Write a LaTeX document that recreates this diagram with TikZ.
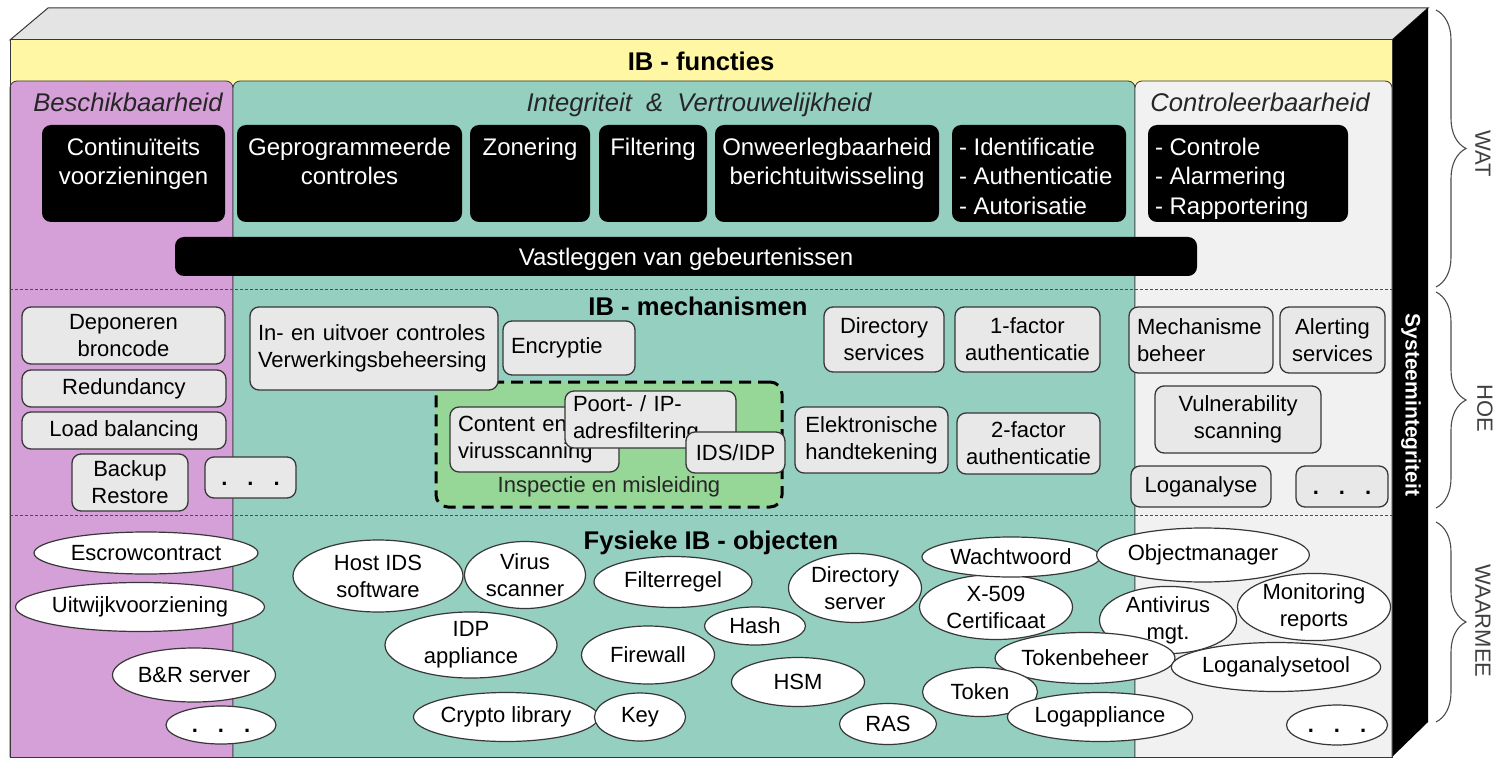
\documentclass[tikz,border=0pt]{standalone}
\usepackage{fontspec}
\setmainfont{Liberation Sans}
\usetikzlibrary{shapes.geometric,positioning,decorations.pathreplacing}

\definecolor{topgray}{RGB}{228,228,228}
\definecolor{bandyellow}{RGB}{255,247,163}
\definecolor{avpurple}{RGB}{213,160,215}
\definecolor{ivteal}{RGB}{148,207,192}
\definecolor{ctgray}{RGB}{241,241,241}
\definecolor{boxgray}{RGB}{232,232,232}
\definecolor{insgreen}{RGB}{150,214,150}
\definecolor{edgegray}{RGB}{55,55,55}

\tikzset{
  panel/.style={draw=edgegray, line width=0.8pt, rounded corners=7pt},
  funcbox/.style={fill=black, rounded corners=9pt, inner sep=0pt},
  functext/.style={text=white, align=center, inner sep=0pt, font=\fontsize{24}{29.5}\selectfont},
  mechbox/.style={draw=edgegray, line width=1.3pt, fill=boxgray, rounded corners=9pt,
    inner sep=0pt, align=center, font=\fontsize{22}{27}\selectfont},
  leftbox/.style={align=left, inner xsep=8pt},
  objell/.style={ellipse, draw=edgegray, line width=1.2pt, fill=white, inner sep=0pt,
    align=center, font=\fontsize{22}{27}\selectfont},
  sectitle/.style={anchor=base, font=\bfseries\fontsize{25.6}{30}\selectfont},
  areatitle/.style={anchor=base, text=black!85, font=\itshape\fontsize{25.6}{30}\selectfont},
  sidelabel/.style={rotate=-90, text=black!75, font=\fontsize{22}{26}\selectfont},
  layerbrace/.style={decorate, decoration={brace, amplitude=30pt}, draw=black!70, line width=1.1pt},
  layerline/.style={draw=black!70, line width=1pt, dash pattern=on 3pt off 2pt},
}
\newcommand{\dotrow}{\vphantom{A}\textbf{.\hspace{20pt}.\hspace{20pt}.}}

\begin{document}
\begin{tikzpicture}[x=1pt, y=-1pt]
\useasboundingbox (0,0) rectangle (1496,759);

% the block
\draw[draw=edgegray, line width=1pt, fill=topgray] (10,40) -- (48,8) -- (1428,8) -- (1392,40) -- cycle;
\draw[draw=edgegray, line width=1pt, fill=bandyellow] (10,40) rectangle (1392,757);
\fill[black] (1392,40) -- (1428,8) -- (1428,722) -- (1392,757) -- cycle;
\draw[panel, fill=avpurple] (10,757) -- (10,81) -- (233,81) -- (233,757);
\draw[panel, fill=ivteal] (233,757) -- (233,81) -- (1135,81) -- (1135,757);
\draw[panel, fill=ctgray] (1135,757) -- (1135,81) -- (1392,81) -- (1392,757);
\draw[draw=edgegray, line width=1pt] (10,40) rectangle (1392,757);
\draw[layerline] (10,290) -- (1392,290);
\draw[layerline] (10,515) -- (1392,515);

\node[sectitle] (tfunc) at (701,71) {IB - functies};
\node[areatitle] (tbesch) at (128,112) {Beschikbaarheid};
\node[areatitle] (tintvert) at (699,112) {Integriteit\ \ \&\ \ Vertrouwelijkheid};
\node[areatitle] (tcontr) at (1260,112) {Controleerbaarheid};
\node[rotate=-90, text=white, font=\bfseries\fontsize{21}{25}\selectfont] (tsys) at (1411,405) {Systeemintegriteit};

% IB - functies
\node[funcbox, minimum width=183pt, minimum height=97pt] (fcont) at (133.5,173.5) {};
\node[funcbox, minimum width=225pt, minimum height=97pt] (fgepr) at (349.5,173.5) {};
\node[funcbox, minimum width=120pt, minimum height=97pt] (fzon) at (530,173.5) {};
\node[funcbox, minimum width=108pt, minimum height=97pt] (ffilt) at (653,173.5) {};
\node[funcbox, minimum width=224pt, minimum height=97pt] (fonw) at (827,173.5) {};
\node[funcbox, minimum width=174pt, minimum height=97pt] (fiaa) at (1039,173.5) {};
\node[funcbox, minimum width=200pt, minimum height=97pt] (fcar) at (1248,173.5) {};
\node[functext, anchor=north, below=13pt of fcont.north] (tcont) {Continuïteits\\voorzieningen};
\node[functext, anchor=north, below=13pt of fgepr.north] (tgepr) {Geprogrammeerde\\controles};
\node[functext, anchor=north, below=13pt of fzon.north] (tzon) {Zonering};
\node[functext, anchor=north, below=13pt of ffilt.north] (tfilt) {Filtering};
\node[functext, anchor=north, below=13pt of fonw.north] (tonw) {Onweerlegbaarheid\\berichtuitwisseling};
\node[functext, align=left, below right=13pt and 7pt of fiaa.north west] (tiaa) {- Identificatie\\- Authenticatie\\- Autorisatie};
\node[functext, align=left, below right=13pt and 7pt of fcar.north west] (tcar) {- Controle\\- Alarmering\\- Rapportering};
\node[funcbox, functext, text depth=0pt, minimum width=1022pt, minimum height=39pt] (fvast) at (686,256.5) {Vastleggen van gebeurtenissen};

% IB - mechanismen
\node[sectitle] (tmech) at (698,315) {IB - mechanismen};
\node[mechbox, minimum width=203pt, minimum height=57pt] (depon) at (123.5,335.5) {Deponeren\\broncode};
\node[mechbox, minimum width=204pt, minimum height=37pt] (redund) at (124,388.5) {Redundancy};
\node[mechbox, minimum width=204pt, minimum height=37pt] (loadb) at (124,430.5) {Load balancing};
\node[mechbox, minimum width=116pt, minimum height=57pt] (backup) at (130,482.5) {Backup\\Restore};
\node[mechbox, minimum width=91pt, minimum height=41pt] (dotsmA) at (250.5,477.5) {\dotrow};
\node[draw=black, line width=3pt, dash pattern=on 12pt off 7pt, fill=insgreen, rounded corners=12pt,
  minimum width=346pt, minimum height=125pt, inner sep=0pt] (insp) at (609,444.5) {};
\node[font=\fontsize{22}{27}\selectfont, text=black!85] (tinsp) at (609,487) {Inspectie en misleiding};
\node[mechbox, leftbox, text width=232pt, minimum height=83pt] (inuit) at (374,348.5) {In- en uitvoer controles\\Verwerkingsbeheersing};
\node[mechbox, leftbox, text width=116pt, minimum height=54pt] (encr) at (569,348) {Encryptie};
\node[mechbox, leftbox, text width=153pt, minimum height=65pt] (content) at (534.5,439.5) {Content en\\virusscanning};
\node[mechbox, leftbox, text width=155pt, minimum height=57pt] (poort) at (650.5,419.5) {Poort- / IP-\\adresfiltering};
\node[mechbox, minimum width=99pt, minimum height=41pt] (idsidp) at (735.5,452.5) {IDS/IDP};
\node[mechbox, minimum width=120pt, minimum height=65pt] (dirsv) at (884,339.5) {Directory\\services};
\node[mechbox, minimum width=145pt, minimum height=65pt] (fac1) at (1027.5,339.5) {1-factor\\authenticatie};
\node[mechbox, minimum width=153pt, minimum height=66pt] (elek) at (871.5,440) {Elektronische\\handtekening};
\node[mechbox, minimum width=143pt, minimum height=61pt] (fac2) at (1028.5,443.5) {2-factor\\authenticatie};
\node[mechbox, leftbox, text width=128pt, minimum height=66pt] (mechb) at (1201,340) {Mechanisme\\beheer};
\node[mechbox, minimum width=105pt, minimum height=66pt] (alert) at (1332.5,340) {Alerting\\services};
\node[mechbox, minimum width=166pt, minimum height=67pt] (vuln) at (1238,419.5) {Vulnerability\\scanning};
\node[mechbox, minimum width=140pt, minimum height=41pt] (logan) at (1201,486.5) {Loganalyse};
\node[mechbox, minimum width=92pt, minimum height=41pt] (dotsmC) at (1342,486.5) {\dotrow};

% Fysieke IB - objecten
\node[sectitle] (tobj) at (711,549) {Fysieke IB - objecten};
\node[objell, minimum width=224pt, minimum height=42pt] (escrow) at (146,553) {Escrowcontract};
\node[objell, minimum width=236pt, minimum height=49pt] (uitwijk) at (140,607) {Uitwijkvoorziening};
\node[objell, minimum width=163pt, minimum height=54pt] (brsrv) at (194,675) {B\&R server};
\node[objell, minimum width=110pt, minimum height=38pt] (dotsoA) at (221,725) {\dotrow};
\node[objell, minimum width=170pt, minimum height=72pt] (hids) at (378,576) {Host IDS\\software};
\node[objell, minimum width=121pt, minimum height=67pt] (virsc) at (525,575) {Virus\\scanner};
\node[objell, minimum width=158pt, minimum height=51pt] (filtr) at (673,582) {Filterregel};
\node[objell, minimum width=172pt, minimum height=56pt] (idpapp) at (471,645) {IDP\\appliance};
\node[objell, minimum width=133pt, minimum height=58pt] (firew) at (648,655) {Firewall};
\node[objell, minimum width=101pt, minimum height=38pt] (hash) at (755,626) {Hash};
\node[objell, minimum width=133pt, minimum height=69pt] (dirsrv) at (855,588) {Directory\\server};
\node[objell, minimum width=133pt, minimum height=49pt] (hsm) at (798,682) {HSM};
\node[objell, minimum width=177pt, minimum height=49pt] (crypt) at (506,717) {Crypto library};
\node[objell, minimum width=91pt, minimum height=48pt] (key) at (640,717) {Key};
\node[objell, minimum width=97pt, minimum height=41pt] (ras) at (888,724) {RAS};
\node[objell, minimum width=153pt, minimum height=65pt] (xcert) at (996,607) {X-509\\Certificaat};
\node[objell, minimum width=178pt, minimum height=40pt] (wacht) at (1011,557) {Wachtwoord};
\node[objell, minimum width=137pt, minimum height=60pt] (antiv) at (1168,620) {Antivirus\\mgt.};
\node[objell, minimum width=176pt, minimum height=51pt] (tokbeh) at (1085,658) {Tokenbeheer};
\node[objell, minimum width=115pt, minimum height=49pt] (token) at (980,692) {Token};
\node[objell, minimum width=170pt, minimum height=49pt] (logapp) at (1100,717) {Logappliance};
\node[objell, minimum width=203pt, minimum height=54pt] (objman) at (1203,555) {Objectmanager};
\node[objell, minimum width=153pt, minimum height=65pt] (monit) at (1314,607) {Monitoring\\reports};
\node[objell, minimum width=192pt, minimum height=49pt] (logtool) at (1276,667) {Loganalysetool};
\node[objell, minimum width=101pt, minimum height=40pt] (dotsoC) at (1337,725) {\dotrow};

% WAT / HOE / WAARMEE
\coordinate (watTop) at (1436,10);
\coordinate (watBot) at (1436,287);
\coordinate (hoeTop) at (1436,292);
\coordinate (hoeBot) at (1436,508);
\coordinate (waarTop) at (1436,522);
\coordinate (waarBot) at (1436,722);
\draw[layerbrace] (watTop) -- (watBot);
\draw[layerbrace] (hoeTop) -- (hoeBot);
\draw[layerbrace] (waarTop) -- (waarBot);
\node[sidelabel] (lwat) at (1483,154) {WAT};
\node[sidelabel] (lhoe) at (1485,408) {HOE};
\node[sidelabel] (lwaar) at (1483,621) {WAARMEE};
\end{tikzpicture}
\end{document}
